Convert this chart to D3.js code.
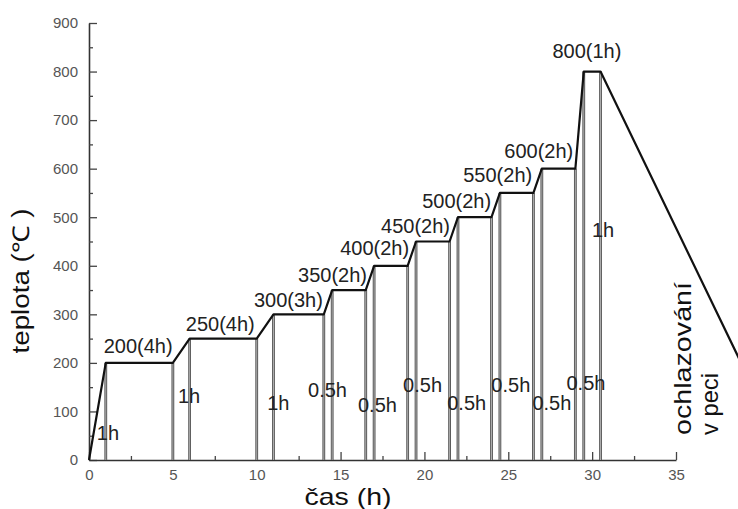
<!DOCTYPE html>
<html>
<head>
<meta charset="utf-8">
<script src="https://cdn.jsdelivr.net/npm/d3@7"></script>
<style>
  html, body { margin: 0; padding: 0; background: #fff; }
  svg { display: block; }
</style>
</head>
<body>
<svg id="chart" width="738" height="509"></svg>
<script>
// Firing schedule: elapsed time (h) against furnace temperature (°C)
const hours = [0, 1, 5, 6, 10, 11, 14, 14.5, 16.5, 17, 19, 19.5, 21.5, 22, 24, 24.5, 26.5, 27, 29, 29.5, 30.5, 38.8];
const temps = [0, 200, 200, 250, 250, 300, 300, 350, 350, 400, 400, 450, 450, 500, 500, 550, 550, 600, 600, 800, 800, 206];

// Hold annotations: text, and the (time, temperature) point the text sits on
const holdText = ["200(4h)", "250(4h)", "300(3h)", "350(2h)", "400(2h)", "450(2h)", "500(2h)", "550(2h)", "600(2h)", "800(1h)"];
const holdHour = [2.93, 7.83, 11.89, 14.52, 17.03, 19.47, 21.92, 24.37, 26.82, 29.69];
const holdTemp = [220, 266, 315, 367, 422, 467, 519, 573, 622, 828];

// Ramp duration annotations
const rampText = ["1h", "1h", "1h", "0.5h", "0.5h", "0.5h", "0.5h", "0.5h", "0.5h", "0.5h", "1h"];
const rampHour = [1.13, 5.97, 11.29, 14.22, 17.2, 19.89, 22.52, 25.15, 27.6, 29.63, 30.65];
const rampTemp = [41, 117, 103, 130, 99, 140, 103, 140, 103, 144, 459];

const xTicks = [0, 5, 10, 15, 20, 25, 30, 35];
const xMinor = [2.5, 7.5, 12.5, 17.5, 22.5, 27.5, 32.5];
const yTicks = [0, 100, 200, 300, 400, 500, 600, 700, 800, 900];
const yMinor = [50, 150, 250, 350, 450, 550, 650, 750, 850];

const xTitle = "čas (h)";
const yTitle = "teplota (℃ )";
const noteLines = ["ochlazování", "v peci"];

const svg = d3.select("#chart");
svg.append("rect").attr("width", 738).attr("height", 509).attr("fill", "#fff");

const x = d3.scaleLinear().domain([0, 35]).range([89, 676]);
const y = d3.scaleLinear().domain([0, 900]).range([460, 23]);

const labelFont = "'Liberation Sans', Arial, Helvetica, sans-serif";

// Axes with inward ticks
const yAxis = svg.append("g").attr("transform", `translate(${x(0)},0)`)
  .call(d3.axisLeft(y).tickValues(yTicks).tickSizeInner(-8).tickSizeOuter(0).tickPadding(11));
const yAxisMinor = svg.append("g").attr("transform", `translate(${x(0)},0)`)
  .call(d3.axisLeft(y).tickValues(yMinor).tickSizeInner(-4).tickSizeOuter(0).tickFormat(""));
const xAxis = svg.append("g").attr("transform", `translate(0,${y(0)})`)
  .call(d3.axisBottom(x).tickValues(xTicks).tickSizeInner(-8).tickSizeOuter(0).tickPadding(9.5));
const xAxisMinor = svg.append("g").attr("transform", `translate(0,${y(0)})`)
  .call(d3.axisBottom(x).tickValues(xMinor).tickSizeInner(-4).tickSizeOuter(0).tickFormat(""));

yAxisMinor.select(".domain").remove();
xAxisMinor.select(".domain").remove();

svg.selectAll(".domain").attr("stroke", "#333").attr("stroke-width", 1.6);
svg.selectAll(".tick line").attr("stroke", "#444").attr("stroke-width", 1.3);
svg.selectAll(".tick text")
  .attr("fill", "#555")
  .style("font-family", labelFont)
  .style("font-size", "15px");

// Vertical guides dropped from every knot of the schedule
const knots = d3.range(1, hours.length - 1);
const guides = svg.append("g");
guides.selectAll("line.outer").data(knots).join("line")
  .attr("class", "outer")
  .attr("x1", i => x(hours[i])).attr("x2", i => x(hours[i]))
  .attr("y1", y(0)).attr("y2", i => y(temps[i]))
  .attr("stroke", "#555").attr("stroke-width", 2.8);
guides.selectAll("line.inner").data(knots).join("line")
  .attr("class", "inner")
  .attr("x1", i => x(hours[i])).attr("x2", i => x(hours[i]))
  .attr("y1", y(0)).attr("y2", i => y(temps[i]))
  .attr("stroke", "#c4c4c4").attr("stroke-width", 0.8);

// Temperature profile
const profile = d3.line().x((d, i) => x(hours[i])).y((d, i) => y(temps[i]));
svg.append("path")
  .datum(hours)
  .attr("d", profile)
  .attr("fill", "none")
  .attr("stroke", "#111")
  .attr("stroke-width", 2.2)
  .attr("stroke-linejoin", "round");

// Hold labels
svg.append("g").selectAll("text").data(holdText).join("text")
  .attr("x", (d, i) => x(holdHour[i]))
  .attr("y", (d, i) => y(holdTemp[i]))
  .attr("text-anchor", "middle")
  .attr("fill", "#222")
  .style("font-family", labelFont)
  .style("font-size", "20px")
  .text(d => d);

// Ramp duration labels
svg.append("g").selectAll("text").data(rampText).join("text")
  .attr("x", (d, i) => x(rampHour[i]))
  .attr("y", (d, i) => y(rampTemp[i]))
  .attr("text-anchor", "middle")
  .attr("fill", "#222")
  .style("font-family", labelFont)
  .style("font-size", "20px")
  .text(d => d);

// Axis titles
svg.append("text")
  .attr("transform", "translate(29,281) rotate(-90)")
  .attr("text-anchor", "middle")
  .attr("textLength", 145)
  .attr("lengthAdjust", "spacingAndGlyphs")
  .attr("fill", "#111")
  .style("font-family", labelFont)
  .style("font-size", "23px")
  .text(yTitle);

svg.append("text")
  .attr("x", 348).attr("y", 505)
  .attr("text-anchor", "middle")
  .attr("textLength", 87)
  .attr("lengthAdjust", "spacingAndGlyphs")
  .attr("fill", "#111")
  .style("font-family", labelFont)
  .style("font-size", "24px")
  .text(xTitle);

// Furnace cooling note beside the descending branch
const noteX = [691, 718];
const noteLen = [153, 62];
svg.append("g").selectAll("text").data(noteLines).join("text")
  .attr("transform", (d, i) => `translate(${noteX[i]},435) rotate(-90)`)
  .attr("text-anchor", "start")
  .attr("textLength", (d, i) => noteLen[i])
  .attr("lengthAdjust", "spacingAndGlyphs")
  .attr("fill", "#111")
  .style("font-family", labelFont)
  .style("font-size", "24px")
  .text(d => d);
</script>
</body>
</html>
